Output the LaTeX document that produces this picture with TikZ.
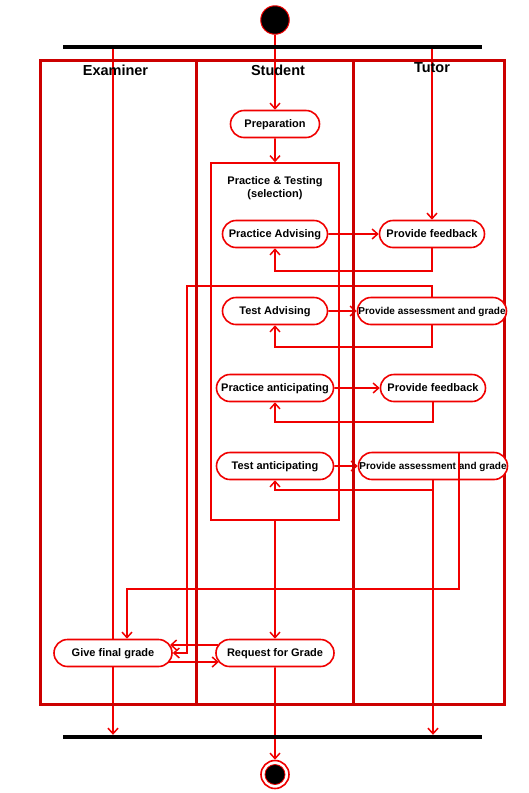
\documentclass[tikz,border=0pt]{standalone}
\usepackage{fontspec}
\setmainfont{Liberation Sans}
\usetikzlibrary{shapes.misc,arrows.meta,backgrounds}
\definecolor{lanered}{RGB}{204,0,0}
\definecolor{linered}{RGB}{240,0,0}
\begin{document}
\begin{tikzpicture}[x=1pt,y=-1pt,
 conn/.style={draw=linered,line width=1.8pt,-{Straight Barb[length=5.5pt,width=10pt,line width=1.5pt]}},
 lane/.style={draw=lanered,line width=3pt},
 pill/.style={rounded rectangle,draw=linered,line width=1.6pt,fill=white,minimum height=27pt,inner xsep=0pt,inner ysep=0pt,text height=8pt,text depth=1pt,font=\fontsize{11}{13}\selectfont\bfseries},
 smallpill/.style={pill,text height=7.3pt,text depth=1pt,font=\fontsize{10}{12}\selectfont\bfseries},
 heading/.style={font=\fontsize{14.5}{16}\selectfont\bfseries,inner sep=0pt},
 bar/.style={fill=black,inner sep=0pt,minimum height=4pt,minimum width=419pt}]
\useasboundingbox (0,0) rectangle (528,793);

% swimlanes
\draw[lane] (40.5,60.5) rectangle (504.5,704.5);
\draw[lane] (196.5,60.5) -- (196.5,704.5);
\draw[lane] (353.5,60.5) -- (353.5,704.5);
\node[heading] (hexam) at (115.5,70) {Examiner};
\node[heading] (hstud) at (278,70) {Student};
\node[heading] (htut) at (432,68) {Tutor};

% bars, start and end
\node[bar] (topbar) at (272.5,47) {};
\node[bar] (botbar) at (272.5,737) {};
\node[circle,fill=black,draw=linered,line width=1pt,minimum size=28.5pt,inner sep=0pt] (start) at (275,20) {};
\node[circle,fill=white,draw=linered,line width=1.6pt,minimum size=28pt,inner sep=0pt] (end) at (275,774.5) {};
\node[circle,fill=black,draw=linered,line width=0.8pt,minimum size=20pt,inner sep=0pt] (endin) at (275,774.5) {};

% practice & testing box
\node[draw=linered,line width=1.6pt,minimum width=128pt,minimum height=357pt,inner sep=0pt] (box) at (275,341.5) {};
\node[font=\fontsize{11}{13}\selectfont\bfseries,align=center,inner sep=0pt] (boxtitle) at (275,188) {Practice \& Testing\\(selection)};

% actions
\node[pill,minimum width=89pt] (prep) at (275,124) {Preparation};
\node[pill,minimum width=105pt] (pa) at (275,234) {Practice Advising};
\node[pill,minimum width=105pt] (pf1) at (432,234) {Provide feedback};
\node[pill,minimum width=105pt] (ta) at (275,311) {Test Advising};
\node[smallpill,minimum width=149pt] (pag1) at (432,311) {Provide assessment and grade};
\node[pill,minimum width=117pt] (pan) at (275,388) {Practice anticipating};
\node[pill,minimum width=105pt] (pf2) at (433,388) {Provide feedback};
\node[pill,minimum width=117pt] (tan) at (275,466) {Test anticipating};
\node[smallpill,minimum width=149pt] (pag2) at (433,466) {Provide assessment and grade};
\node[pill,minimum width=118pt] (gfg) at (113,653) {Give final grade};
\node[pill,minimum width=118pt] (rfg) at (275,653) {Request for Grade};

\begin{scope}[on background layer]
\draw[conn] (start) -- (prep);
\draw[conn] (prep) -- (box.north);
\draw[conn] (topbar.south -| gfg.north) -- (botbar.north -| gfg.south);
\draw[conn] (topbar.south -| pf1.north) -- (pf1.north);
\draw[conn] (pa) -- (pf1);
\draw[conn] (pf1.south) -- (pf1.south |- 0,271) -| (pa.south);
\draw[conn] (ta) -- (pag1);
\draw[conn] (pag1.south) -- (pag1.south |- 0,347) -| (ta.south);
\draw[conn] (pan) -- (pf2);
\draw[conn] (pf2.south) -- (pf2.south |- 0,422) -| (pan.south);
\draw[conn] (tan) -- (pag2);
\draw[conn] (pag2.south) -- (pag2.south |- 0,490) -| (tan.south);
\draw[conn] (pag2.south) -- (pag2.south |- botbar.north);
\draw[conn] (pag1.north) -- (pag1.north |- 0,286) -| (187,653) -- (gfg.east);
\draw[conn] (box.south) -- (rfg.north);
\draw[conn] ([shift={(2.8pt,8pt)}]rfg.west) -- ([shift={(-2.8pt,8pt)}]gfg.east);
\draw[conn] ([shift={(-3.6pt,-9pt)}]gfg.east) -- ([shift={(3.6pt,-9pt)}]rfg.west);
\draw[conn] (rfg) -- (end);
\end{scope}

\draw[conn] (pag2.north -| 459,0) -- (459,589) -| (gfg.north -| 127,0);
\end{tikzpicture}
\end{document}
